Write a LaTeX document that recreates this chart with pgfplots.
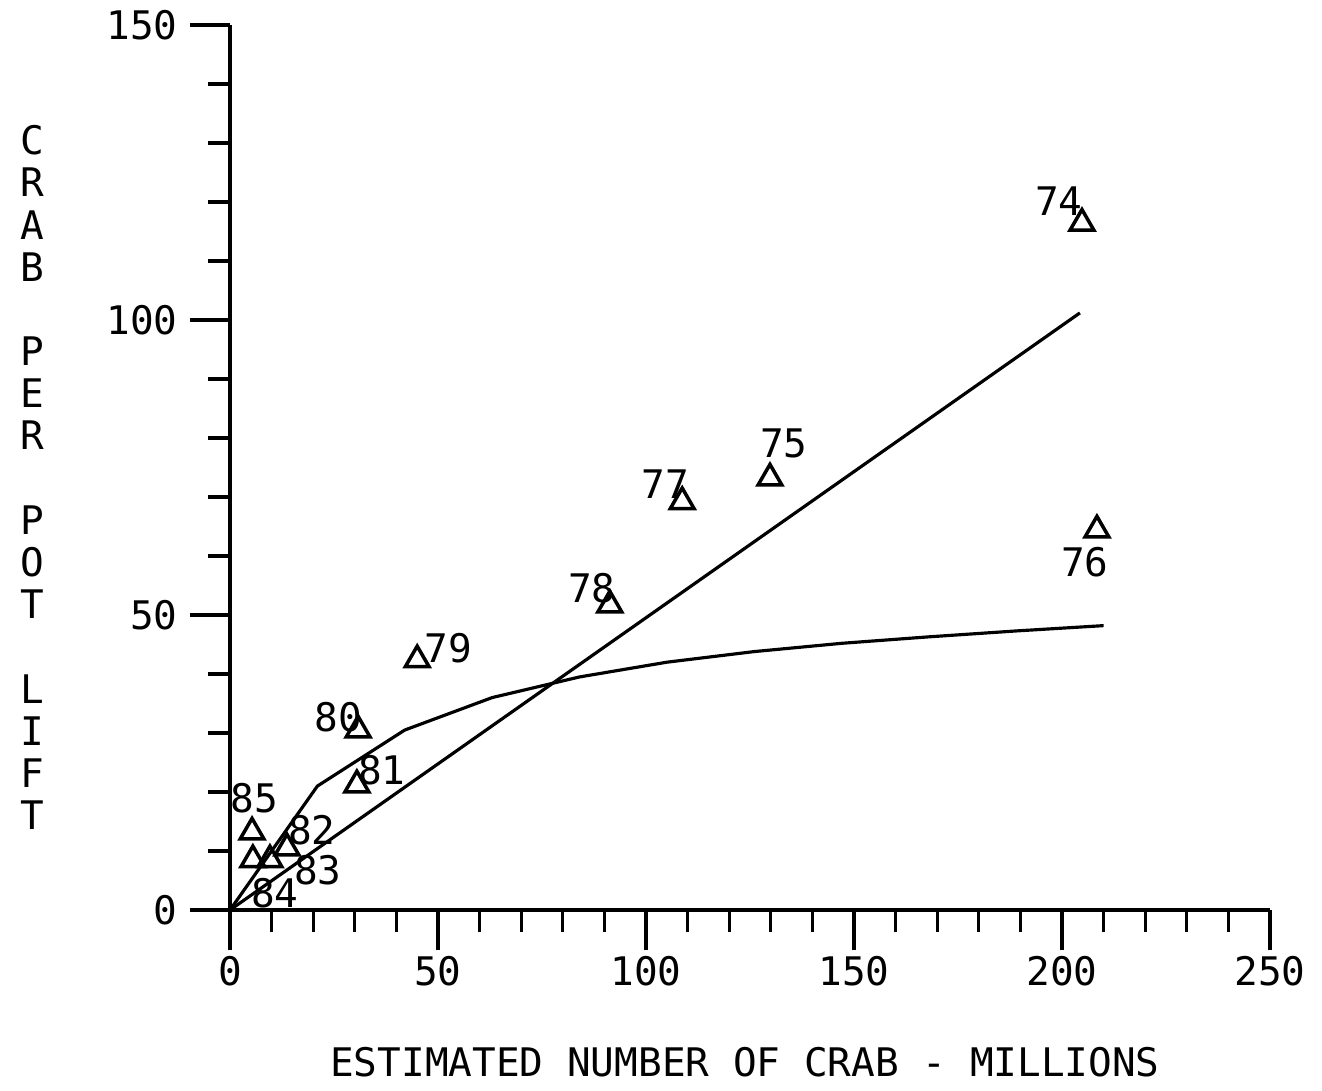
\documentclass[border=0pt]{standalone}
\usepackage{fontspec}
\setmainfont{DejaVu Sans Mono}
\usepackage{pgfplots}
\pgfplotsset{compat=1.18}
\newcommand{\pf}{\fontsize{11.2pt}{12pt}\selectfont}
\begin{document}
\begin{tikzpicture}
\path[use as bounding box] (0,0) rectangle (132.2mm,109mm);
\begin{axis}[
  at={(23mm,18mm)}, anchor=origin,
  scale only axis, width=104mm, height=88.5mm,
  xmin=0, xmax=250, ymin=0, ymax=150,
  axis x line=bottom, axis y line=left,
  axis line style={-, line width=1.05pt, black},
  xtick={0,50,...,250}, ytick={0,50,100,150},
  minor x tick num=4, minor y tick num=4,
  tick align=outside, major tick length=4mm, minor tick length=2.2mm,
  tick style={line width=0.95pt, black},
  every tick/.style={line width=0.95pt, black},
  every minor tick/.style={line width=0.95pt, black},
  ticklabel style={font=\pf},
  xticklabel style={yshift=0.6mm},
  /pgf/number format/assume math mode=true,
  clip=false,
]
% straight line
\addplot[black, line width=0.9pt] coordinates {(0,0) (204.3,101.2)};
% curve
\addplot[black, line width=0.9pt] coordinates {
(0,0) (21,21.0) (42,30.5) (63,36.0) (84,39.5) (105,42.0) (126,43.8) (147,45.2) (168,46.3) (189,47.3) (210,48.2)};
% observations
\addplot[only marks, mark=triangle, mark size=3.9pt, mark options={line width=1pt, black}] coordinates {
(204.8,116.4) (129.8,73.2) (208.4,64.4) (108.7,69.2) (91.3,51.7) (45.0,42.4)
(30.8,30.5) (30.5,21.2) (13.7,10.5) (9.6,8.5) (5.5,8.5) (5.3,13.2)};
\begin{scope}[every node/.style={font=\pf, inner sep=0pt}]
\node[xshift=-2.3mm, yshift=2.2mm] at (axis cs:204.8,116.4) {74};
\node[xshift=1.4mm, yshift=3.5mm] at (axis cs:129.8,73.2) {75};
\node[xshift=-1.2mm, yshift=-3.2mm] at (axis cs:208.4,64.4) {76};
\node[xshift=-1.7mm, yshift=1.8mm] at (axis cs:108.7,69.2) {77};
\node[xshift=-1.8mm, yshift=1.7mm] at (axis cs:91.3,51.7) {78};
\node[xshift=3.1mm, yshift=1.2mm] at (axis cs:45.0,42.4) {79};
\node[xshift=-2.0mm, yshift=1.3mm] at (axis cs:30.8,30.5) {80};
\node[xshift=2.5mm, yshift=1.5mm] at (axis cs:30.5,21.2) {81};
\node[xshift=2.5mm, yshift=1.8mm] at (axis cs:13.7,10.5) {82};
\node[xshift=4.8mm, yshift=-1.0mm] at (axis cs:9.6,8.5) {83};
\node[xshift=2.2mm, yshift=-3.3mm] at (axis cs:5.5,8.5) {84};
\node[xshift=0.2mm, yshift=3.4mm] at (axis cs:5.3,13.2) {85};
\end{scope}
\end{axis}
\node[align=center, font=\pf, inner sep=0pt] at (3.2mm,61.25mm)
  {C\\R\\A\\B\\[4.22mm]P\\E\\R\\[4.22mm]P\\O\\T\\[4.22mm]L\\I\\F\\T};
\node[font=\pf, inner sep=0pt] at (74.5mm,2.8mm) {ESTIMATED NUMBER OF CRAB - MILLIONS};
\end{tikzpicture}
\end{document}
